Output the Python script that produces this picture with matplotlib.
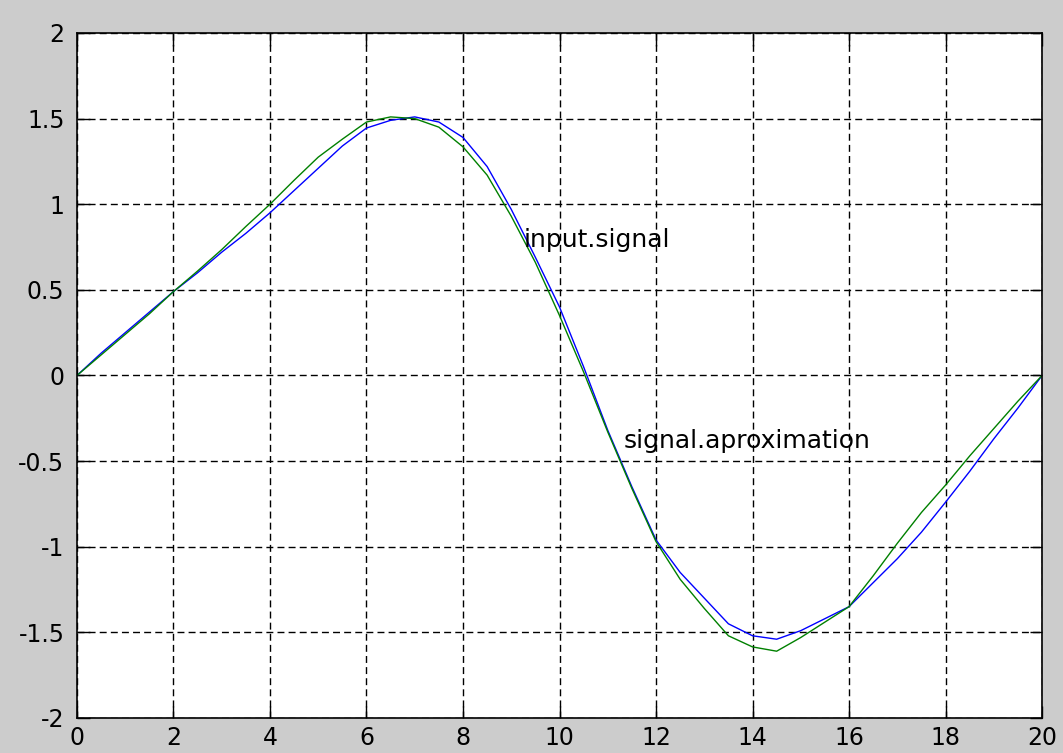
import matplotlib
matplotlib.use('Agg')
import matplotlib.pyplot as plt

# valores
x = [0, 0.5, 1, 1.5, 2, 2.5, 3, 3.5, 4, 4.5, 5, 5.5, 6, 6.5, 7, 7.5, 8, 8.5, 9, 9.5,
     10, 10.5, 11, 11.5, 12, 12.5, 13, 13.5, 14, 14.5, 15, 15.5, 16, 16.5, 17, 17.5,
     18, 18.5, 19, 19.5, 20]
input_signal = [0, 0.13, 0.25, 0.37, 0.49, 0.60, 0.72, 0.83, 0.95, 1.08, 1.21, 1.34,
                1.445, 1.49, 1.51, 1.48, 1.39, 1.22, 0.97, 0.69, 0.40, 0.05, -0.32,
                -0.65, -0.96, -1.15, -1.30, -1.45, -1.52, -1.54, -1.49, -1.42, -1.35,
                -1.21, -1.07, -0.915, -0.74, -0.56, -0.37, -0.19, 0]
signal_aprox = [0, 0.12, 0.24, 0.36, 0.49, 0.61, 0.735, 0.87, 1.00, 1.14, 1.275, 1.38,
                1.48, 1.51, 1.50, 1.45, 1.335, 1.17, 0.93, 0.66, 0.35, 0.02, -0.33,
                -0.66, -0.97, -1.19, -1.36, -1.52, -1.585, -1.61, -1.53, -1.44, -1.35,
                -1.17, -0.98, -0.80, -0.64, -0.47, -0.31, -0.15, 0]

xticks = list(range(0, 21, 2))
yticks = [-2, -1.5, -1, -0.5, 0, 0.5, 1, 1.5, 2]
yticklabels = ['-2', '-1.5', '-1', '-0.5', '0', '0.5', '1', '1.5', '2']

plt.rcParams['font.family'] = ['DejaVu Sans']

fig = plt.figure(figsize=(10.63, 7.53), dpi=100, facecolor='#cccccc')
ax = fig.add_axes([0.0724, 0.0465, 0.9079, 0.9097])
ax.set_facecolor('white')

ax.plot(x, input_signal, color='#0000ff', linewidth=1.0)
ax.plot(x, signal_aprox, color='#008000', linewidth=1.0)

ax.text(9.25, 0.79, 'input.signal', fontsize=18, va='center', ha='left')
ax.text(11.32, -0.38, 'signal.aproximation', fontsize=18, va='center', ha='left')

ax.set_xlim(0, 20)
ax.set_ylim(-2, 2)
ax.set_xticks(xticks)
ax.set_yticks(yticks)
ax.set_yticklabels(yticklabels)

ax.grid(True, color='black', linestyle=(0, (5, 3)), linewidth=1.0)
ax.tick_params(direction='in', length=9, width=1, top=True, right=True,
               labelsize=17, colors='black')
ax.tick_params(axis='x', pad=6)
ax.tick_params(axis='y', pad=9)
for s in ax.spines.values():
    s.set_linewidth(1.2)
    s.set_color('black')

fig.savefig('out.png', dpi=100, facecolor=fig.get_facecolor())
